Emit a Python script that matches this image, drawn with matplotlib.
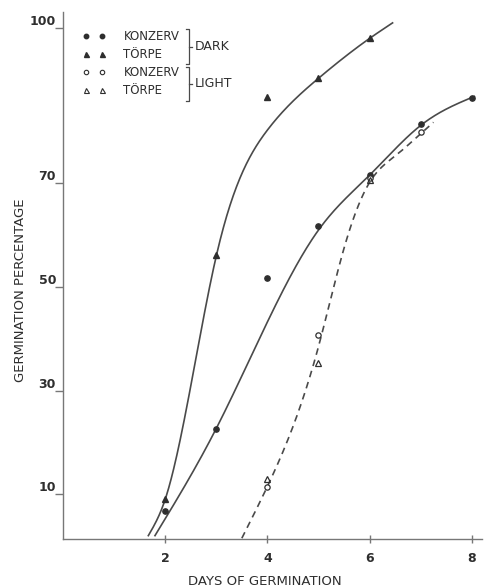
import numpy as np
import matplotlib
matplotlib.use("Agg")
import matplotlib.pyplot as plt
from matplotlib.lines import Line2D

# ---------------- data ----------------
days = [2, 3, 4, 5, 6, 7, 8]
dark_konzerv = [6.8, 22.6, 51.7, 61.8, 71.6, 81.5, 86.5]
dark_torpe_days = [2, 3, 4, 5, 6]
dark_torpe = [9.1, 56.2, 86.7, 90.3, 98.1]
light_konzerv_days = [4, 5, 6, 7]
light_konzerv = [11.4, 40.7, 71.0, 79.9]
light_torpe_days = [4, 5, 6]
light_torpe = [12.9, 35.3, 70.7]

# hand-fitted curves (knots)
torpe_curve_x = [1.67, 2.0, 3.0, 4.0, 5.0, 6.0, 6.45]
torpe_curve_y = [2.0, 9.0, 56.0, 80.3, 90.3, 98.0, 101.0]
konzerv_curve_x = [1.8, 3.0, 5.0, 6.0, 7.0, 8.05]
konzerv_curve_y = [2.0, 22.7, 61.0, 71.6, 81.2, 86.8]
light_curve_x = [3.5, 4.0, 5.0, 5.5, 6.0, 6.5, 7.0, 7.25]
light_curve_y = [1.5, 11.5, 38.5, 57.5, 70.2, 75.3, 79.6, 81.8]

xticks = [2, 4, 6, 8]
yticks = [10, 30, 50, 70, 100]
legend_labels = ["KONZERV", "TÖRPE", "KONZERV", "TÖRPE"]
group_labels = ["DARK", "LIGHT"]
xlabel = "DAYS OF GERMINATION"
ylabel = "GERMINATION PERCENTAGE"


def natural_spline(x, y, xs):
    x = np.asarray(x, float)
    y = np.asarray(y, float)
    n = len(x)
    h = np.diff(x)
    A = np.zeros((n, n))
    b = np.zeros(n)
    A[0, 0] = 1
    A[-1, -1] = 1
    for i in range(1, n - 1):
        A[i, i - 1] = h[i - 1]
        A[i, i] = 2 * (h[i - 1] + h[i])
        A[i, i + 1] = h[i]
        b[i] = 6 * ((y[i + 1] - y[i]) / h[i] - (y[i] - y[i - 1]) / h[i - 1])
    M = np.linalg.solve(A, b)
    idx = np.clip(np.searchsorted(x, xs) - 1, 0, n - 2)
    x0, x1 = x[idx], x[idx + 1]
    hh = h[idx]
    return (M[idx] * (x1 - xs) ** 3 / (6 * hh) + M[idx + 1] * (xs - x0) ** 3 / (6 * hh)
            + (y[idx] / hh - M[idx] * hh / 6) * (x1 - xs)
            + (y[idx + 1] / hh - M[idx + 1] * hh / 6) * (xs - x0))


ink = "#2e2e2e"
linec = "#4a4a4a"

fig = plt.figure(figsize=(4.84, 5.88), dpi=100)
ax = fig.add_axes([63 / 484, 1 - 539 / 588, (482 - 63) / 484, (539 - 12) / 588])
ax.set_xlim(0, 8.2)
ax.set_ylim(1.35, 103.1)

for cx, cy, ls in [(torpe_curve_x, torpe_curve_y, "-"),
                   (konzerv_curve_x, konzerv_curve_y, "-"),
                   (light_curve_x, light_curve_y, (0, (4, 3)))]:
    xs = np.linspace(cx[0], cx[-1], 300)
    ax.plot(xs, natural_spline(cx, cy, xs), color=linec, lw=1.2, linestyle=ls, zorder=2)

ms = 3.8
ax.plot(days, dark_konzerv, "o", color=ink, ms=ms, mec=ink, zorder=3, ls="none")
ax.plot(dark_torpe_days, dark_torpe, "^", color=ink, ms=ms, mec=ink, zorder=3, ls="none")
ax.plot(light_konzerv_days, light_konzerv, "o", mfc="white", mec=ink, mew=0.9,
        ms=ms, zorder=4, ls="none")
ax.plot(light_torpe_days, light_torpe, "^", mfc="none", mec=ink, mew=0.9,
        ms=ms + 0.5, zorder=4, ls="none")

for s in ["top", "right"]:
    ax.spines[s].set_visible(False)
for s in ["left", "bottom"]:
    ax.spines[s].set_color("#777777")
    ax.spines[s].set_linewidth(1.0)

ax.set_xticks(xticks)
ax.set_xticklabels([str(v) for v in xticks])
ax.set_yticks(yticks)
ax.set_yticklabels([str(v) for v in yticks])
ax.tick_params(axis="x", direction="inout", length=6, width=1, color="#777777",
               labelsize=9, labelcolor=ink, pad=6)
ax.tick_params(axis="y", direction="out", length=6, width=1, color="#777777",
               labelsize=9, labelcolor=ink, pad=-1)
for lab in ax.get_yticklabels():
    lab.set_va("bottom")
    lab.set_fontweight("bold")
for lab in ax.get_xticklabels():
    lab.set_fontweight("bold")

ax.set_xlabel(xlabel, fontsize=9.5, color=ink)
ax.xaxis.set_label_coords((265 - 63) / (482 - 63), -(575 - 539) / (539 - 12))
ax.set_ylabel(ylabel, fontsize=9.5, color=ink, va="center")
ax.yaxis.set_label_coords(-(63 - 20) / (482 - 63), (539 - 290) / (539 - 12))

handles = [
    Line2D([], [], ls="none", marker="o", color=ink, ms=3.2),
    Line2D([], [], ls="none", marker="^", color=ink, ms=3.6),
    Line2D([], [], ls="none", marker="o", mfc="white", mec=ink, mew=0.8, ms=3.2),
    Line2D([], [], ls="none", marker="^", mfc="none", mec=ink, mew=0.8, ms=3.6),
]
leg = ax.legend(handles, legend_labels, numpoints=2, frameon=False,
                loc="upper left", bbox_to_anchor=(82.7 / 484, 1 - 30 / 588),
                bbox_transform=fig.transFigure, borderaxespad=0, borderpad=0,
                fontsize=8.5, handlelength=1.95, handletextpad=1.5,
                labelspacing=0.42)
for t in leg.get_texts():
    t.set_color(ink)


def fx(px):
    return px / 484


def fy(py):
    return 1 - py / 588


for (top, bot, mid) in [(29, 64, 47), (67, 101, 84)]:
    fig.add_artist(Line2D([fx(186), fx(189), fx(189), fx(186)],
                          [fy(top), fy(top), fy(bot), fy(bot)],
                          color=linec, lw=0.9))
    fig.add_artist(Line2D([fx(189), fx(192)], [fy(mid), fy(mid)],
                          color=linec, lw=0.9))
fig.text(fx(195), fy(47), group_labels[0], fontsize=9, color=ink, va="center")
fig.text(fx(195), fy(84), group_labels[1], fontsize=9, color=ink, va="center")

fig.savefig("out.png", dpi=100)
